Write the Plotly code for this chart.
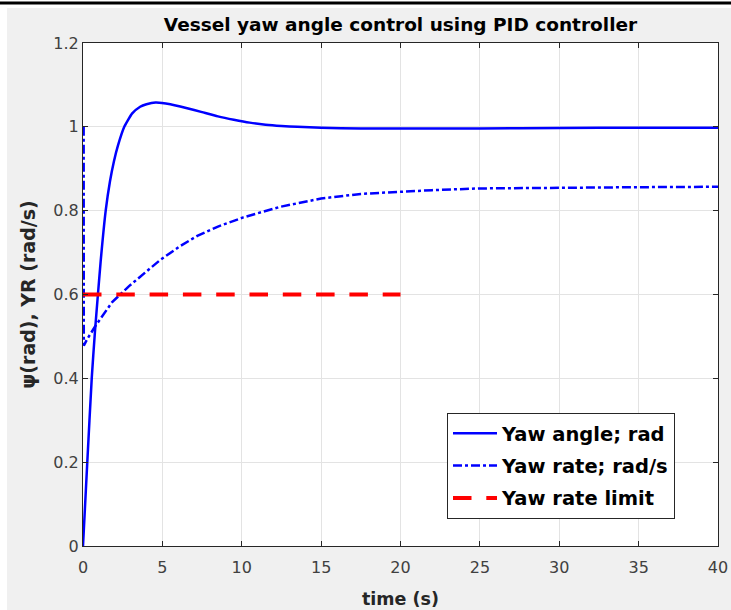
import plotly.graph_objects as go

# ---- data ----
t_angle = [0, 0.27, 0.55, 0.75, 0.94, 1.11, 1.43, 1.7, 1.95, 2.2, 2.6, 3.1, 3.6, 4.0, 4.57,
           5.5, 6.5, 7.5, 8.5, 9.5, 10.5, 11.5, 12.5, 13.5, 15, 17.5, 20, 25, 30, 35, 40]
yaw_angle = [0, 0.2, 0.4, 0.51, 0.6, 0.678, 0.8, 0.87, 0.918, 0.955, 1.0, 1.032, 1.048, 1.054,
             1.058, 1.054, 1.045, 1.035, 1.025, 1.017, 1.010, 1.005, 1.002, 1.0, 0.998, 0.996,
             0.996, 0.996, 0.997, 0.998, 0.998]

t_rate = [0.04, 0.05, 0.27, 0.8, 1.84, 2.9, 4.0, 4.85, 6.1, 7.2, 8.5, 10.1, 12.4, 15.0, 17.5,
          20.1, 22, 25, 30, 35, 40]
yaw_rate = [1.0, 0.478, 0.494, 0.526, 0.582, 0.62, 0.655, 0.682, 0.715, 0.74, 0.762, 0.784,
            0.809, 0.829, 0.84, 0.846, 0.849, 0.853, 0.855, 0.856, 0.857]

t_limit = [0, 20]
rate_limit = [0.6, 0.6]

x_ticks = [0, 5, 10, 15, 20, 25, 30, 35, 40]
y_ticks = [0, 0.2, 0.4, 0.6, 0.8, 1.0, 1.2]
y_ticklabels = ["0", "0.2", "0.4", "0.6", "0.8", "1", "1.2"]

# ---- figure ----
W, H = 731, 610
L, R, T, B = 83, 718, 43, 546


def px(x):
    return (x - L) / (R - L)


def py(y):
    return (B - y) / (B - T)


fig = go.Figure()
fig.add_trace(go.Scatter(x=t_angle, y=yaw_angle, mode="lines", name="Yaw angle; rad",
                         line=dict(color="#0000ff", width=2.5, shape="spline", smoothing=0.5),
                         legendgroup="a"))
fig.add_trace(go.Scatter(x=t_rate, y=yaw_rate, mode="lines", name="Yaw rate; rad/s",
                         line=dict(color="#0000ff", width=2.5, dash="9px,3px,3px,3px"),
                         legendgroup="b"))
fig.add_trace(go.Scatter(x=t_limit, y=rate_limit, mode="lines", name="Yaw rate limit",
                         line=dict(color="#ff0000", width=4, dash="18.5px,14.8px"),
                         legendgroup="c"))

axis_common = dict(showline=True, linecolor="#262626", linewidth=1, mirror="allticks",
                   ticks="inside", ticklen=5, tickcolor="#262626", showgrid=True,
                   gridcolor="#e3e3e3", gridwidth=1, zeroline=False, automargin=False,
                   tickfont=dict(family="DejaVu Sans", size=16, color="#404040"))

fig.update_xaxes(range=[0, 40], tickvals=x_ticks, ticklabelstandoff=7,
                 title=dict(text="<b>time (s)</b>", font=dict(family="DejaVu Sans", size=17.5, color="#262626"),
                            standoff=16),
                 **axis_common)
fig.update_yaxes(range=[0, 1.2], tickvals=y_ticks, ticktext=y_ticklabels,
                 title=dict(text="<b>ψ(rad), YR (rad/s)</b>", font=dict(family="DejaVu Sans", size=19, color="#262626"),
                            standoff=12),
                 **axis_common)

fig.update_layout(
    width=W, height=H,
    margin=dict(l=L, r=W - R, t=T, b=H - B, autoexpand=False),
    paper_bgcolor="white", plot_bgcolor="white",
    title=dict(text="<b>Vessel yaw angle control using PID controller</b>",
               font=dict(family="DejaVu Sans", size=18.5, color="black"),
               x=0.5, xref="paper", xanchor="center", y=1 - 25 / H, yanchor="middle"),
    legend=dict(x=px(447), y=py(413), xanchor="left", yanchor="top",
                bgcolor="white", bordercolor="#262626", borderwidth=1,
                font=dict(family="DejaVu Sans", size=19.5, color="black", weight="bold"),
                traceorder="grouped", tracegroupgap=4, itemwidth=44),
    showlegend=True,
    shapes=[
        dict(type="rect", xref="paper", yref="paper", x0=px(7), x1=px(W + 2), y0=py(H + 2), y1=py(8),
             fillcolor="#f0f0f0", line=dict(width=0), layer="below"),
        dict(type="rect", xref="paper", yref="paper", x0=0, x1=1, y0=0, y1=1,
             fillcolor="white", line=dict(width=0), layer="below"),
        dict(type="line", xref="paper", yref="paper", x0=px(0), x1=px(W), y0=py(3), y1=py(3),
             line=dict(color="black", width=3)),
    ],
)

fig.write_html("out.html", config={"responsive": False})
